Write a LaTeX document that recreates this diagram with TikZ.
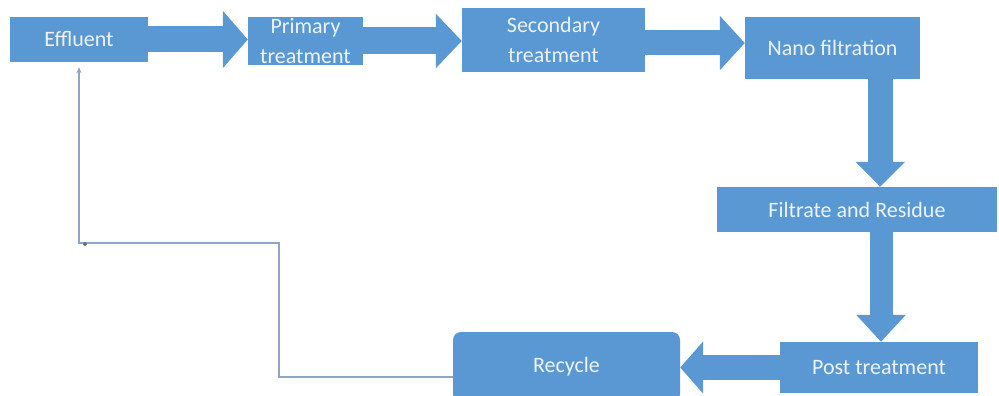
\documentclass[tikz,border=0pt]{standalone}
\usepackage{fontspec}
\setmainfont{Carlito}
\usetikzlibrary{arrows.meta,calc}
\definecolor{boxblue}{RGB}{90,152,212}
\definecolor{boxtext}{RGB}{236,243,251}
\definecolor{fbline}{RGB}{140,165,200}
\tikzset{
  box/.style={fill=boxblue, draw=none, inner sep=0pt, text=boxtext, align=center,
    font=\fontsize{22}{30}\selectfont},
  blockarrow/.style={draw=boxblue, line width=#1},
  fb/.style={draw=fbline, line width=1.1pt}
}
\begin{document}
\begin{tikzpicture}[x=1pt,y=-1pt]
\useasboundingbox[fill=white] (0,0) rectangle (999,396);

\node[box, minimum width=138, minimum height=45] (eff) at (79,39.5) {Effluent};
\node[box, minimum width=115, minimum height=48] (prim) at (305.5,41) {Primary\\treatment};
\node[box, minimum width=183, minimum height=64] (sec) at (553.5,40) {Secondary\\treatment};
\node[box, minimum width=175, minimum height=62] (nano) at (832.5,48) {Nano filtration};
\node[box, minimum width=280, minimum height=45] (filt) at (857,209.5) {Filtrate and Residue};
\node[box, minimum width=198, minimum height=51] (post) at (879,367.5) {Post treatment};
\node[box, minimum width=227, minimum height=70, rounded corners=8pt] (rec) at (566.5,367) {Recycle};

% block arrows
\draw[blockarrow=26pt, -{Triangle[length=25pt,width=56pt]}] (eff.east) -- (eff.east -| prim.west);
\draw[blockarrow=27pt, -{Triangle[length=26pt,width=53pt]}] (prim.east) -- (prim.east -| sec.west);
\coordinate (s3) at ($(sec.east)+(0,3)$);
\draw[blockarrow=25pt, -{Triangle[length=25pt,width=53pt]}] (s3) -- (s3 -| nano.west);
\coordinate (d1) at ($(nano.south east)+(-40,0)$);
\draw[blockarrow=25pt, -{Triangle[length=25pt,width=48pt]}] (d1) -- (d1 |- filt.north);
\coordinate (d2) at ($(filt.south)+(24,0)$);
\draw[blockarrow=23pt, -{Triangle[length=27pt,width=48pt]}] (d2) -- (d2 |- post.north);
\draw[blockarrow=25pt, -{Triangle[length=23pt,width=51pt]}] (post.west) -- (post.west -| rec.east);

% feedback line
\coordinate (f0) at ($(rec.west)+(0,10)$);
\coordinate (f1) at (279,377);
\coordinate (f2) at (279,243);
\coordinate (f3) at (79,243);
\coordinate (f4) at ($(eff.south)+(0,5)$);
\draw[fb, -{Stealth[length=6pt,width=5pt]}] (f0) -- (f1) -- (f2) -- (f3) -- (f4);
\fill[fbline!70!black] ($(f3)+(6,1)$) circle (2pt);
\end{tikzpicture}
\end{document}
